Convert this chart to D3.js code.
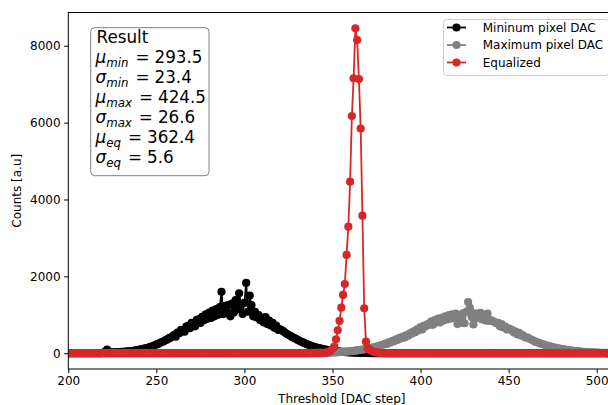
<!DOCTYPE html>
<html>
<head>
<meta charset="utf-8">
<script src="https://cdn.jsdelivr.net/npm/d3@7"></script>
<style>
  html, body { margin: 0; padding: 0; background: #fff; }
  svg { display: block; font-family: "DejaVu Sans", sans-serif; }
</style>
</head>
<body>
<svg id="chart" width="608" height="405"></svg>
<script>
// ---------- DATA ----------
const thresholds = d3.range(200, 511); // DAC steps 200..510

const minPixelDAC = [
  0,0,0,0,0,0,0,0,0,0,
  0,0,0,0,0,0,0,0,2,6,
  18,45,95,35,16,20,22,26,24,30,
  34,32,40,44,48,58,55,65,72,78,
  90,98,105,118,128,142,152,170,182,205,
  228,242,265,290,305,335,352,385,405,435,
  475,430,540,520,610,590,560,690,712,650,
  790,760,700,870,880,790,950,860,1010,900,
  1060,920,1110,960,1150,1000,1200,1600,1020,1230,
  1080,1260,960,1290,1060,1380,1150,1560,1280,1020,
  1310,1830,1080,1500,1250,960,1080,930,990,860,
  930,800,940,760,850,720,790,660,720,610,
  625,600,575,540,505,478,455,425,400,378,
  352,330,305,288,262,245,225,208,190,176,
  160,148,136,124,114,104,95,87,79,71,
  64,57,51,46,41,37,33,30,27,24,
  21,19,17,15,13,11,10,8,7,6,
  5,4,3,3,2,2,1,1,1,1,
  0,0,0,0,0,0,0,0,0,0,
  0,0,0,0,0,0,0,0,0,0,
  0,0,0,0,0,0,0,0,0,0,
  0,0,0,0,0,0,0,0,0,0,
  0,0,0,0,0,0,0,0,0,0,
  0,0,0,0,0,0,0,0,0,0,
  0,0,0,0,0,0,0,0,0,0,
  0,0,0,0,0,0,0,0,0,0,
  0,0,0,0,0,0,0,0,0,0,
  0,0,0,0,0,0,0,0,0,0,
  0,0,0,0,0,0,0,0,0,0,
  0,0,0,0,0,0,0,0,0,0,
  0,0,0,0,0,0,0,0,0,0,
  0
];

const maxPixelDAC = [
  0,0,0,0,0,0,0,0,0,0,
  0,0,0,0,0,0,0,0,0,0,
  0,0,0,0,0,0,0,0,0,0,
  0,0,0,0,0,0,0,0,0,0,
  0,0,0,0,0,0,0,0,0,0,
  0,0,0,0,0,0,0,0,0,0,
  0,0,0,0,0,0,0,0,0,0,
  0,0,0,0,0,0,0,0,0,0,
  0,0,0,0,0,0,0,0,0,0,
  0,0,0,0,0,0,0,0,0,0,
  0,0,0,0,0,0,0,0,0,0,
  0,0,0,0,0,0,0,0,0,0,
  0,0,0,0,0,0,0,0,0,0,
  1,1,2,2,2,3,3,4,4,5,
  6,7,8,8,10,11,12,14,15,17,
  19,22,24,27,30,32,36,40,44,48,
  52,58,62,68,74,80,86,95,102,110,
  120,128,140,150,162,173,186,200,214,228,
  250,240,285,280,320,310,360,345,400,385,
  430,410,470,455,520,505,570,545,620,600,
  680,620,720,700,760,740,820,740,860,810,
  900,800,920,850,960,880,990,900,1010,920,
  1030,760,990,790,1040,780,1080,1330,1180,940,
  750,1040,920,1010,1050,880,980,850,1030,840,
  860,830,810,780,790,700,760,670,690,620,
  650,620,600,540,560,490,530,460,470,420,
  400,410,370,350,330,300,290,270,255,240,
  225,210,195,185,170,160,148,138,128,118,
  110,102,95,88,80,74,68,62,57,52,
  47,43,39,35,32,29,26,23,21,19,
  17,15,13,12,11,10,9,8,7,6,
  5
];

const equalized = [
  0,0,0,0,0,0,0,0,0,0,
  0,0,0,0,0,0,0,0,0,0,
  0,0,0,0,0,0,0,0,0,0,
  0,0,0,0,0,0,0,0,0,0,
  0,0,0,0,0,0,0,0,0,0,
  0,0,0,0,0,0,0,0,0,0,
  0,0,0,0,0,0,0,0,0,0,
  0,0,0,0,0,0,0,0,0,0,
  0,0,0,0,0,0,0,0,0,0,
  0,0,0,0,0,0,0,0,0,0,
  0,0,0,0,0,0,0,0,0,0,
  0,0,0,0,0,0,0,0,0,0,
  0,0,0,0,0,0,0,0,0,0,
  0,0,0,0,0,0,0,0,0,0,
  0,0,0,0,0,5,10,20,40,70,
  110,172,364,598,840,1186,1516,1802,2557,3293,
  4463,6172,7152,8453,8148,7134,5847,3579,1170,302,
  130,90,65,45,32,22,15,10,6,4,
  2,1,0,0,0,0,0,0,0,0,
  0,0,0,0,0,0,0,0,0,0,
  0,0,0,0,0,0,0,0,0,0,
  0,0,0,0,0,0,0,0,0,0,
  0,0,0,0,0,0,0,0,0,0,
  0,0,0,0,0,0,0,0,0,0,
  0,0,0,0,0,0,0,0,0,0,
  0,0,0,0,0,0,0,0,0,0,
  0,0,0,0,0,0,0,0,0,0,
  0,0,0,0,0,0,0,0,0,0,
  0,0,0,0,0,0,0,0,0,0,
  0,0,0,0,0,0,0,0,0,0,
  0,0,0,0,0,0,0,0,0,0,
  0
];

const seriesNames = ["Mininum pixel DAC", "Maximum pixel DAC", "Equalized"];
const seriesColors = ["#000000", "#808080", "#d62728"];
const xTicks = [200, 250, 300, 350, 400, 450, 500];
const yTicks = [0, 2000, 4000, 6000, 8000];
const xLabel = "Threshold [DAC step]";
const yLabel = "Counts [a.u]";
const resultTitle = "Result";
const resultRows = [
  ["μ", "min", "293.5"],
  ["σ", "min", "23.4"],
  ["μ", "max", "424.5"],
  ["σ", "max", "26.6"],
  ["μ", "eq", "362.4"],
  ["σ", "eq", "5.6"]
];

// ---------- LAYOUT ----------
const svg = d3.select("#chart");
const L = 68.3, R = 615.3, T = 12.5, B = 369;
const x = d3.scaleLinear().domain([200, 200 + (R - L) / 1.7613]).range([L, R]);
const y = d3.scaleLinear().domain([-410, 8865]).range([B, T]);

svg.append("defs").append("clipPath").attr("id", "clip")
  .append("rect").attr("x", L).attr("y", T).attr("width", R - L).attr("height", B - T);

const plot = svg.append("g").attr("clip-path", "url(#clip)");
const allSeries = [minPixelDAC, maxPixelDAC, equalized];
const line = d3.line().x(d => x(d[0])).y(d => y(d[1]));

allSeries.forEach((vals, i) => {
  const pts = thresholds.map((t, k) => [t, vals[k]]);
  plot.append("path").datum(pts)
    .attr("d", line)
    .attr("fill", "none")
    .attr("stroke", seriesColors[i])
    .attr("stroke-width", 1.8)
    .attr("stroke-linejoin", "round");
  plot.append("g").selectAll("circle").data(pts).join("circle")
    .attr("cx", d => x(d[0])).attr("cy", d => y(d[1]))
    .attr("r", 4.1)
    .attr("fill", seriesColors[i]);
});

// axes
const xAxis = d3.axisBottom(x).tickValues(xTicks).tickFormat(d3.format("d")).tickSize(4.2).tickPadding(3.5);
const gx = svg.append("g").attr("transform", `translate(0,${B})`).call(xAxis);
const yAxis = d3.axisLeft(y).tickValues(yTicks).tickFormat(d3.format("d")).tickSize(4.2).tickPadding(3.5);
const gy = svg.append("g").attr("transform", `translate(${L},0)`).call(yAxis);
[gx, gy].forEach(g => {
  g.select(".domain").remove();
  g.selectAll("line").attr("stroke", "#000").attr("stroke-width", 1);
  g.selectAll("text").attr("font-family", "DejaVu Sans").attr("font-size", 12).attr("fill", "#000");
});

// spines
svg.append("rect").attr("x", L).attr("y", T).attr("width", R - L).attr("height", B - T)
  .attr("fill", "none").attr("stroke", "#000").attr("stroke-width", 1);

// axis labels
svg.append("text").attr("x", (L + R) / 2).attr("y", 403).attr("text-anchor", "middle")
  .attr("font-size", 12).text(xLabel);
svg.append("text").attr("transform", `translate(20.5,${(T + B) / 2}) rotate(-90)`)
  .attr("text-anchor", "middle").attr("font-size", 12).text(yLabel);

// result box
svg.append("rect").attr("x", 90.7).attr("y", 27.7).attr("width", 118.3).attr("height", 148)
  .attr("rx", 4).attr("fill", "#fff").attr("fill-opacity", 0.8)
  .attr("stroke", "#808080").attr("stroke-width", 1);
svg.append("text").attr("x", 96.5).attr("y", 43.3).attr("font-size", 16.8).text(resultTitle);
resultRows.forEach((r, i) => {
  const t = svg.append("text").attr("x", 95.5).attr("y", 63.3 + i * 20).attr("font-size", 16.8);
  t.append("tspan").attr("font-style", "italic").text(r[0]);
  t.append("tspan").attr("font-style", "italic").attr("font-size", 11.8).attr("dy", 3.6).text(r[1]);
  t.append("tspan").attr("dy", -3.6).attr("dx", 7).text("=");
  t.append("tspan").attr("dx", 5).text(r[2]);
});

// legend
const lg = svg.append("g");
lg.append("rect").attr("x", 443.5).attr("y", 19.5).attr("width", 165).attr("height", 56)
  .attr("rx", 3).attr("fill", "#fff").attr("fill-opacity", 0.8)
  .attr("stroke", "#cccccc").attr("stroke-width", 1);
seriesNames.forEach((name, i) => {
  const cy = 27.5 + i * 17.5;
  lg.append("line").attr("x1", 447).attr("x2", 466).attr("y1", cy).attr("y2", cy)
    .attr("stroke", seriesColors[i]).attr("stroke-width", 1.8);
  lg.append("circle").attr("cx", 456.5).attr("cy", cy).attr("r", 4.1).attr("fill", seriesColors[i]);
  lg.append("text").attr("x", 482.7).attr("y", cy + 4.3).attr("font-size", 12).text(name);
});
</script>
</body>
</html>
